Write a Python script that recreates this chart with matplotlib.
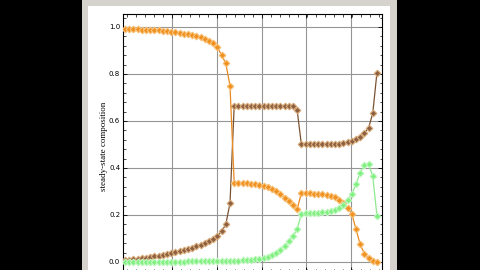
import matplotlib
matplotlib.use("Agg")
import matplotlib.pyplot as plt
from matplotlib.patches import Rectangle
from matplotlib.ticker import MultipleLocator, AutoMinorLocator
import numpy as np

# sample index along the horizontal axis (61 evenly spaced samples)
x = np.arange(61)

orange = [0.993, 0.992, 0.991, 0.990, 0.989, 0.988, 0.987, 0.986, 0.985, 0.984,
          0.982, 0.980, 0.977, 0.975, 0.972, 0.969, 0.965, 0.961, 0.956, 0.950,
          0.941, 0.930, 0.914, 0.880, 0.845, 0.750, 0.337, 0.336, 0.335, 0.334,
          0.332, 0.330, 0.328, 0.323, 0.317, 0.309, 0.300, 0.288, 0.274, 0.258,
          0.242, 0.224, 0.294, 0.293, 0.292, 0.291, 0.290, 0.288, 0.285, 0.281,
          0.275, 0.265, 0.250, 0.230, 0.205, 0.140, 0.075, 0.036, 0.015, 0.004,
          0.000]

brown = [0.008, 0.010, 0.012, 0.014, 0.016, 0.018, 0.021, 0.024, 0.027, 0.030,
         0.033, 0.037, 0.041, 0.045, 0.050, 0.055, 0.060, 0.066, 0.073, 0.080,
         0.088, 0.098, 0.110, 0.130, 0.160, 0.250, 0.664, 0.664, 0.664, 0.664,
         0.664, 0.664, 0.664, 0.664, 0.664, 0.664, 0.664, 0.664, 0.664, 0.664,
         0.664, 0.645, 0.500, 0.500, 0.500, 0.500, 0.500, 0.500, 0.501, 0.501,
         0.502, 0.503, 0.505, 0.509, 0.515, 0.523, 0.533, 0.548, 0.570, 0.633,
         0.806]

green = [0.001, 0.001, 0.001, 0.001, 0.001, 0.001, 0.001, 0.001, 0.001, 0.002,
         0.002, 0.002, 0.002, 0.002, 0.002, 0.003, 0.003, 0.003, 0.003, 0.003,
         0.004, 0.004, 0.004, 0.005, 0.005, 0.005, 0.006, 0.006, 0.007, 0.008,
         0.009, 0.011, 0.013, 0.016, 0.022, 0.030, 0.040, 0.052, 0.068, 0.088,
         0.110, 0.140, 0.205, 0.207, 0.208, 0.209, 0.210, 0.212, 0.214, 0.217,
         0.222, 0.230, 0.243, 0.262, 0.290, 0.330, 0.380, 0.413, 0.415, 0.366,
         0.195]

grid_x = [11.2, 21.9, 32.6, 43.2, 53.9]
y_ticks = [0.0, 0.2, 0.4, 0.6, 0.8, 1.0]

W, H = 480, 270
fig = plt.figure(figsize=(4.8, 2.7), dpi=100, facecolor="black")

# window frame and white canvas behind the plot
fig.patches.append(Rectangle((82 / W, 0), (397 - 82) / W, 1, transform=fig.transFigure,
                             facecolor="#d6d3cf", edgecolor="none", zorder=-10))
fig.patches.append(Rectangle((88 / W, 0), (390 - 88) / W, (270 - 6) / H,
                             transform=fig.transFigure,
                             facecolor="white", edgecolor="none", zorder=-9))

ax = fig.add_axes([123 / W, -1.4 / H, (382 - 123) / W, (256 + 1.4) / H])
ax.set_facecolor("white")

ax.plot(x, brown, color="#7a5232", lw=0.9, marker="D", ms=3.4,
        mfc="#8c6040", mec="#d9ac7c", mew=0.8, zorder=3)
ax.plot(x, orange, color="#e88a20", lw=0.9, marker="D", ms=3.4,
        mfc="#f0901e", mec="#f8c27a", mew=0.8, zorder=4)
ax.plot(x, green, color="#8ee88e", lw=0.9, marker="D", ms=3.4,
        mfc="#80f080", mec="#bff8bf", mew=0.8, zorder=5)

ax.set_xlim(-0.48, 61.2)
ax.set_ylim(-0.04, 1.055)

ax.set_xticks(grid_x)
ax.set_xticklabels([])
ax.xaxis.set_minor_locator(AutoMinorLocator(5))
ax.set_yticks(y_ticks)
ax.set_yticklabels([f"{v:.1f}" for v in y_ticks])
ax.yaxis.set_minor_locator(MultipleLocator(0.04))

ax.tick_params(which="both", direction="in", top=True, right=True,
               labelsize=5, pad=2, colors="black")
ax.tick_params(which="major", length=3, width=0.6)
ax.tick_params(which="minor", length=1.8, width=0.5)

ax.grid(True, which="major", color="#959595", lw=0.8)
ax.set_axisbelow(True)
for s in ax.spines.values():
    s.set_color("black")
    s.set_linewidth(0.8)

fig.text(104 / W, 1 - 146 / H, "steady-state composition", rotation=90,
         ha="center", va="center", fontsize=6.5, family="Liberation Serif")

fig.savefig("out.png", dpi=100, facecolor=fig.get_facecolor())
